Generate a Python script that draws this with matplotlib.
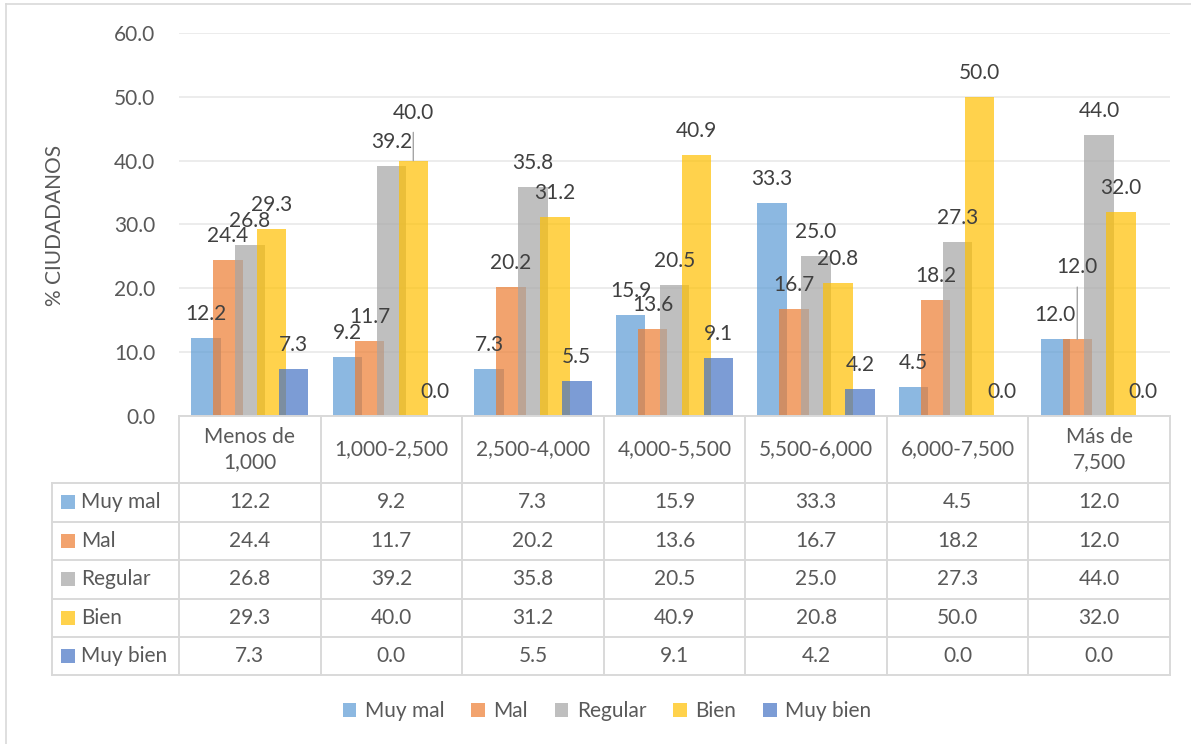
import numpy as np
import matplotlib
matplotlib.use("Agg")
import matplotlib.pyplot as plt
import matplotlib.transforms as mtransforms
from matplotlib.patches import Rectangle

plt.rcParams['font.family'] = ['Lato', 'DejaVu Sans']

# datos
categorias = ["Menos de\n1,000", "1,000-2,500", "2,500-4,000", "4,000-5,500",
              "5,500-6,000", "6,000-7,500", "Más de\n7,500"]
series = ["Muy mal", "Mal", "Regular", "Bien", "Muy bien"]
muy_mal = [12.2, 9.2, 7.3, 15.9, 33.3, 4.5, 12.0]
mal = [24.4, 11.7, 20.2, 13.6, 16.7, 18.2, 12.0]
regular = [26.8, 39.2, 35.8, 20.5, 25.0, 27.3, 44.0]
bien = [29.3, 40.0, 31.2, 40.9, 20.8, 50.0, 32.0]
muy_bien = [7.3, 0.0, 5.5, 9.1, 4.2, 0.0, 0.0]
valores = [muy_mal, mal, regular, bien, muy_bien]
colores = ["#5B9BD5", "#ED7D31", "#A5A5A5", "#FFC000", "#4472C4"]
y_ticks = [0, 10, 20, 30, 40, 50, 60]

W, H = 1191, 744
fs = 15
txt_gris = "#595959"
lbl_gris = "#404040"
linea = "#D9D9D9"

def fx(px):
    return px / W

def fy(py):
    return 1 - py / H

fig = plt.figure(figsize=(W / 100, H / 100), dpi=100)
ax = fig.add_axes([fx(179), fy(416), fx(1170) - fx(179), fy(33) - fy(416)])

x = np.arange(len(categorias))
paso = 0.155
ancho = 0.208
# etiquetas desplazadas (Excel las movio) -> (serie, categoria): px extra
desplazadas = {(3, 1): 24, (1, 6): 48}

for k, (nombre, vals) in enumerate(zip(series, valores)):
    xs = x + (k - 2) * paso
    ax.bar(xs, vals, width=ancho, color=colores[k], alpha=0.7, label=nombre,
           zorder=2 + k, linewidth=0)
    for i, v in enumerate(vals):
        extra = desplazadas.get((k, i), 0)
        off = (24 + extra) * 0.72
        if extra:
            ax.annotate(f"{v:.1f}", (xs[i], v), xytext=(0, off), textcoords="offset points",
                        ha="center", va="center", fontsize=fs, color=lbl_gris, zorder=10,
                        arrowprops=dict(arrowstyle="-", color="#A6A6A6", lw=1.0,
                                        shrinkA=5, shrinkB=0))
        else:
            ax.annotate(f"{v:.1f}", (xs[i], v), xytext=(0, off), textcoords="offset points",
                        ha="center", va="center", fontsize=fs, color=lbl_gris, zorder=10)

ax.set_xlim(-0.5, len(categorias) - 0.5)
ax.set_ylim(0, 60)
ax.set_yticks(y_ticks)
ax.set_yticklabels([f"{t:.1f}" for t in y_ticks], fontsize=fs, color=txt_gris)
ax.tick_params(axis="y", length=0, pad=17)
ax.set_xticks([])
ax.grid(axis="y", color="#EBEBEB", lw=1.3, zorder=0)
ax.set_axisbelow(True)
for s in ax.spines.values():
    s.set_visible(False)

fig.text(fx(55), fy(225), "% CIUDADANOS", rotation=90, ha="center", va="center",
         fontsize=fs, color=txt_gris)

# tabla de datos
trans = mtransforms.blended_transform_factory(ax.transData, fig.transFigure)
filas_px = [416, 483, 521.5, 560, 598.5, 637, 675]
x_izq = -0.5
x_der = len(categorias) - 0.5
x_lbl = fx(52)

# lineas horizontales
ax.plot([x_izq, x_der], [fy(416), fy(416)], transform=trans, color=linea, lw=1.4,
        clip_on=False, zorder=20)
for py in filas_px[1:]:
    fig.add_artist(plt.Line2D([x_lbl, fx(1170)], [fy(py), fy(py)], color=linea, lw=1.4))
# lineas verticales
for xe in np.arange(len(categorias) + 1) - 0.5:
    ax.plot([xe, xe], [fy(416), fy(675)], transform=trans, color=linea, lw=1.4,
            clip_on=False, zorder=20)
fig.add_artist(plt.Line2D([x_lbl, x_lbl], [fy(483), fy(675)], color=linea, lw=1.4))

for i, c in enumerate(categorias):
    ax.text(i, fy((416 + 483) / 2), c, transform=trans, ha="center", va="center",
            fontsize=fs, color=txt_gris, linespacing=1.35, clip_on=False)

for k, (nombre, vals) in enumerate(zip(series, valores)):
    yc = (filas_px[k + 1] + filas_px[k + 2]) / 2
    fig.add_artist(Rectangle((fx(61), fy(yc + 7)), fx(14), 14 / H, color=colores[k],
                             alpha=0.7, transform=fig.transFigure, linewidth=0))
    fig.text(fx(81), fy(yc), nombre, ha="left", va="center", fontsize=fs, color=txt_gris)
    for i, v in enumerate(vals):
        ax.text(i, fy(yc), f"{v:.1f}", transform=trans, ha="center", va="center",
                fontsize=fs, color=txt_gris, clip_on=False)

# leyenda
handles, labels = ax.get_legend_handles_labels()
fig.legend(handles, labels, loc="center", bbox_to_anchor=(fx(607), fy(711)), ncol=5,
           frameon=False, fontsize=fs, handlelength=0.65, handleheight=0.65,
           handletextpad=0.4, columnspacing=1.3, labelcolor=txt_gris)

# borde del grafico
fig.add_artist(plt.Line2D([fx(6), fx(6)], [fy(4), 0], color=linea, lw=1.2))
fig.add_artist(plt.Line2D([fx(6), 1], [fy(4), fy(4)], color=linea, lw=1.2))

fig.savefig("out.png", dpi=100)
